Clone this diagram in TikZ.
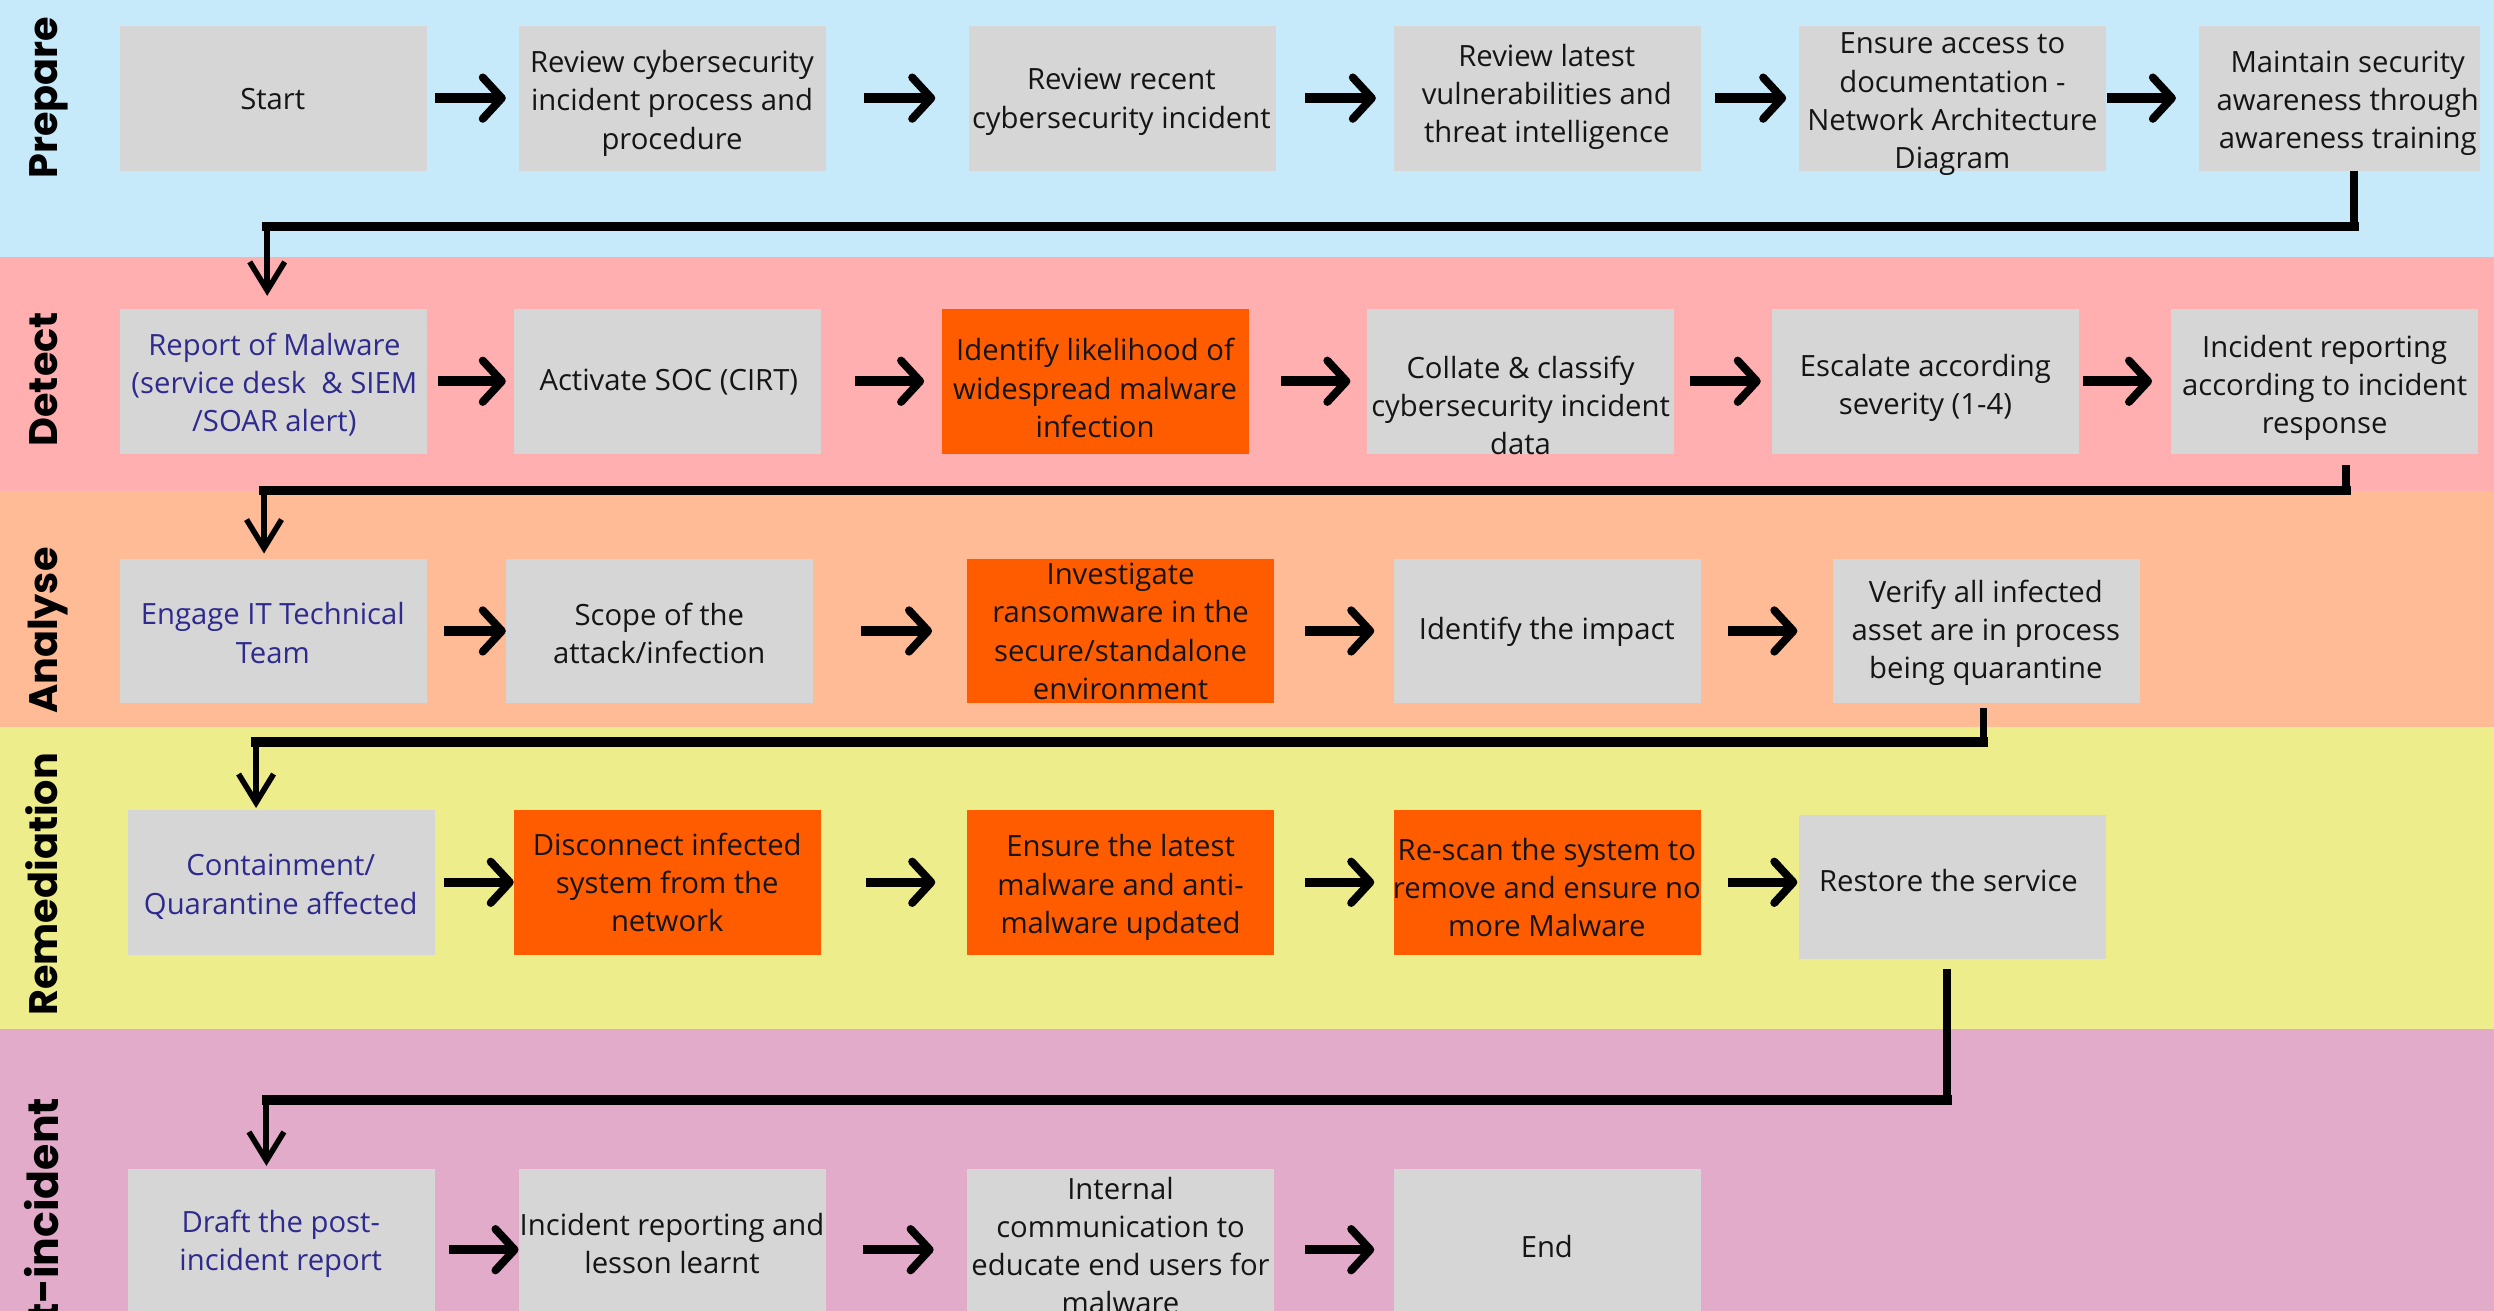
\documentclass[tikz,border=0pt]{standalone}
\usepackage{fontspec}
\setmainfont{Open Sans}
\newfontfamily\lanefont{Poppins}
\usetikzlibrary{arrows.meta}
\definecolor{bPrep}{HTML}{C6EAF9}
\definecolor{bDet}{HTML}{FFAFAF}
\definecolor{bAna}{HTML}{FFBB96}
\definecolor{bRem}{HTML}{EDED8B}
\definecolor{bPost}{HTML}{E1ABC9}
\definecolor{boxgray}{HTML}{D6D6D6}
\definecolor{boxorange}{HTML}{FF5C00}
\definecolor{txtblue}{HTML}{2E2A8E}
\definecolor{txtdark}{HTML}{151515}
\tikzset{
  box/.style={minimum width=193pt, minimum height=91pt, anchor=north west, inner sep=0pt, draw=none},
  gbox/.style={box, fill=boxgray},
  obox/.style={box, fill=boxorange},
  txt/.style={align=center, font=\fontsize{18.4}{24}\selectfont, text=txtdark, inner sep=0pt},
  btxt/.style={txt, text=txtblue},
  lane/.style={rotate=90, anchor=base, inner sep=0pt, font=\lanefont\bfseries\fontsize{25}{25}\selectfont, text=black},
  harrow/.style={line width=6pt, -{Straight Barb[length=12pt,width=26pt,line width=5pt,round]}},
  hline/.style={line width=6pt, line cap=rect},
  vline/.style={line width=4.8pt},
  darrow/.style={line width=3.8pt, -{Straight Barb[length=18pt,width=22pt,line width=3.5pt]}}
}
\begin{document}
\begin{tikzpicture}[x=1pt,y=-1pt]
\useasboundingbox (0,0) rectangle (1568,824);
\clip (0,0) rectangle (1568,824);
% lanes
\fill[bPrep] (0,0) rectangle (1568,161.5);
\fill[bDet] (0,161.5) rectangle (1568,309);
\fill[bAna] (0,309) rectangle (1568,457);
\fill[bRem] (0,457) rectangle (1568,647);
\fill[bPost] (0,647) rectangle (1568,824);
\node[lane] (lprep) at (36,61.5) {Prepare};
\node[lane] (ldet) at (36,238.5) {Detect};
\node[lane] (lana) at (36,396.5) {Analyse};
\node[lane] (lrem) at (36,556) {Remediation};
\node[lane, anchor=base east, font=\lanefont\bfseries\fontsize{26.8}{26.8}\selectfont] (lpost) at (37,690) {Post-incident};
% row 1
\node[gbox] (start) at (75,16) {};
\node[gbox] (revcyb) at (326,16) {};
\node[gbox] (revrec) at (609,16) {};
\node[gbox] (revlat) at (876,16) {};
\node[gbox] (ensure) at (1131,16) {};
\node[gbox, minimum width=177pt] (maintain) at (1382,16) {};
\node[txt] (start-t) at (171.5,62) {Start};
\node[txt] (revcyb-t) at (422.5,65) {Review cybersecurity\\incident process and\\procedure};
\node[txt] (revrec-t) at (705,64) {Review recent\\cybersecurity incident};
\node[txt] (revlat-t) at (972.5,61) {Review latest\\vulnerabilities and\\threat intelligence};
\node[txt] (ensure-t) at (1227.5,65.5) {Ensure access to\\documentation -\\Network Architecture\\Diagram};
\node[txt] (maintain-t) at (1476,65) {Maintain security\\awareness through\\awareness training};
% row 2
\node[gbox] (report) at (75,194) {};
\node[gbox] (activate) at (323,194) {};
\node[obox] (identify) at (592,194) {};
\node[gbox] (collate) at (859,194) {};
\node[gbox] (escalate) at (1114,194) {};
\node[gbox] (increp) at (1365,194) {};
\node[btxt] (report-t) at (172.5,242) {Report of Malware\\(service desk\ \ \& SIEM\\/SOAR alert)};
\node[txt] (activate-t) at (420.5,240.5) {Activate SOC (CIRT)};
\node[txt] (identify-t) at (688.5,244) {Identify likelihood of\\widespread malware\\infection};
\node[txt] (collate-t) at (956,255) {Collate \& classify\\cybersecurity incident\\data};
\node[txt] (escalate-t) at (1210.5,244) {Escalate according\\severity (1-4)};
\node[txt] (increp-t) at (1461.5,244) {Incident reporting\\according to incident\\response};
% row 3
\node[gbox] (engage) at (75,351) {};
\node[gbox] (scope) at (318,351) {};
\node[obox] (invest) at (608,351) {};
\node[gbox] (impact) at (876,351) {};
\node[gbox] (verify) at (1152,351) {};
\node[btxt] (engage-t) at (171.5,398) {Engage IT Technical\\Team};
\node[txt] (scope-t) at (414.5,398) {Scope of the\\attack/infection};
\node[txt] (invest-t) at (704.5,397) {Investigate\\ransomware in the\\secure/standalone\\environment};
\node[txt] (impact-t) at (972.5,397.5) {Identify the impact};
\node[txt] (verify-t) at (1248.5,398) {Verify all infected\\asset are in process\\being quarantine};
% row 4
\node[gbox] (contain) at (80,509) {};
\node[obox] (disconnect) at (323,509) {};
\node[obox] (enslat) at (608,509) {};
\node[obox] (rescan) at (876,509) {};
\node[gbox] (restore) at (1131,512) {};
\node[btxt] (contain-t) at (176.5,557.5) {Containment/\\Quarantine affected};
\node[txt] (disconnect-t) at (419.5,555) {Disconnect infected\\system from the\\network};
\node[txt] (enslat-t) at (704.5,558) {Ensure the latest\\malware and anti-\\malware updated};
\node[txt] (rescan-t) at (972.5,558) {Re-scan the system to\\remove and ensure no\\more Malware};
\node[txt] (restore-t) at (1225,553.5) {Restore the service};
% row 5
\node[gbox, minimum height=100pt] (draft) at (80,735) {};
\node[gbox, minimum height=100pt] (irll) at (326,735) {};
\node[gbox, minimum height=100pt] (internal) at (608,735) {};
\node[gbox, minimum height=100pt] (endn) at (876,735) {};
\node[btxt] (draft-t) at (176.5,782) {Draft the post-\\incident report};
\node[txt] (irll-t) at (422.5,782) {Incident reporting and\\lesson learnt};
\node[txt] (internal-t) at (704.5,783) {Internal\\communication to\\educate end users for\\malware};
\node[txt] (endn-t) at (972.5,783.5) {End};
% row arrows
\draw[harrow, shorten <=5pt, shorten >=8pt] (start.east) -- (start.east -| revcyb.west);
\draw[harrow, shorten <=24pt, shorten >=21pt] (revcyb.east) -- (revcyb.east -| revrec.west);
\draw[harrow, shorten <=18pt, shorten >=11pt] (revrec.east) -- (revrec.east -| revlat.west);
\draw[harrow, shorten <=9pt, shorten >=8pt] (revlat.east) -- (revlat.east -| ensure.west);
\draw[harrow, shorten <=0pt, shorten >=14pt] (ensure.east) -- (ensure.east -| maintain.west);
\draw[harrow, shorten <=7pt, shorten >=5pt] (report.east) -- (report.east -| activate.west);
\draw[harrow, shorten <=21pt, shorten >=11pt] (activate.east) -- (activate.east -| identify.west);
\draw[harrow, shorten <=20pt, shorten >=10pt] (identify.east) -- (identify.east -| collate.west);
\draw[harrow, shorten <=10pt, shorten >=7pt] (collate.east) -- (collate.east -| escalate.west);
\draw[harrow, shorten <=2pt, shorten >=12pt] (escalate.east) -- (escalate.east -| increp.west);
\draw[harrow, shorten <=11pt, shorten >=0pt] (engage.east) -- (engage.east -| scope.west);
\draw[harrow, shorten <=30pt, shorten >=22pt] (scope.east) -- (scope.east -| invest.west);
\draw[harrow, shorten <=19pt, shorten >=12pt] (invest.east) -- (invest.east -| impact.west);
\draw[harrow, shorten <=17pt, shorten >=22pt] (impact.east) -- (impact.east -| verify.west);
\draw[harrow, shorten <=6pt, shorten >=0pt] (contain.east) -- (contain.east -| disconnect.west);
\draw[harrow, shorten <=28pt, shorten >=20pt] (disconnect.east) -- (disconnect.east -| enslat.west);
\draw[harrow, shorten <=19pt, shorten >=12pt] (enslat.east) -- (enslat.east -| rescan.west);
\draw[harrow, shorten <=17pt, shorten >=1pt] (rescan.east) -- (rescan.east -| restore.west);
\draw[harrow, shorten <=9pt, shorten >=0pt] ([yshift=-0.5pt]draft.east) -- ([yshift=-0.5pt]draft.east -| irll.west);
\draw[harrow, shorten <=23pt, shorten >=21pt] ([yshift=-0.5pt]irll.east) -- ([yshift=-0.5pt]irll.east -| internal.west);
\draw[harrow, shorten <=19pt, shorten >=12pt] ([yshift=-0.5pt]internal.east) -- ([yshift=-0.5pt]internal.east -| endn.west);
% lane connectors
\coordinate (k1a) at (1480,142.5);
\coordinate (k1) at (168,142.5);
\draw[vline] (maintain.south -| k1a) -- (k1a);
\draw[hline] (k1a) -- (k1);
\draw[darrow, shorten >=8pt] (k1) -- (k1 |- report.north);
\coordinate (k2a) at (1475,308.3);
\coordinate (k2) at (166,308.3);
\draw[vline, shorten <=7pt] (increp.south -| k2a) -- (k2a);
\draw[hline] (k2a) -- (k2);
\draw[darrow, shorten >=3pt] (k2) -- (k2 |- engage.north);
\coordinate (k3a) at (1247,466.5);
\coordinate (k3) at (161,466.5);
\draw[vline, shorten <=3pt] (verify.south -| k3a) -- (k3a);
\draw[hline] (k3a) -- (k3);
\draw[darrow, shorten >=1pt] (k3) -- (k3 |- contain.north);
\coordinate (k4a) at (1224,691.5);
\coordinate (k4) at (167.5,691.5);
\draw[vline, shorten <=6pt] (restore.south -| k4a) -- (k4a);
\draw[hline] (k4a) -- (k4);
\draw[darrow, shorten >=2pt] (k4) -- (k4 |- draft.north);
\end{tikzpicture}
\end{document}
